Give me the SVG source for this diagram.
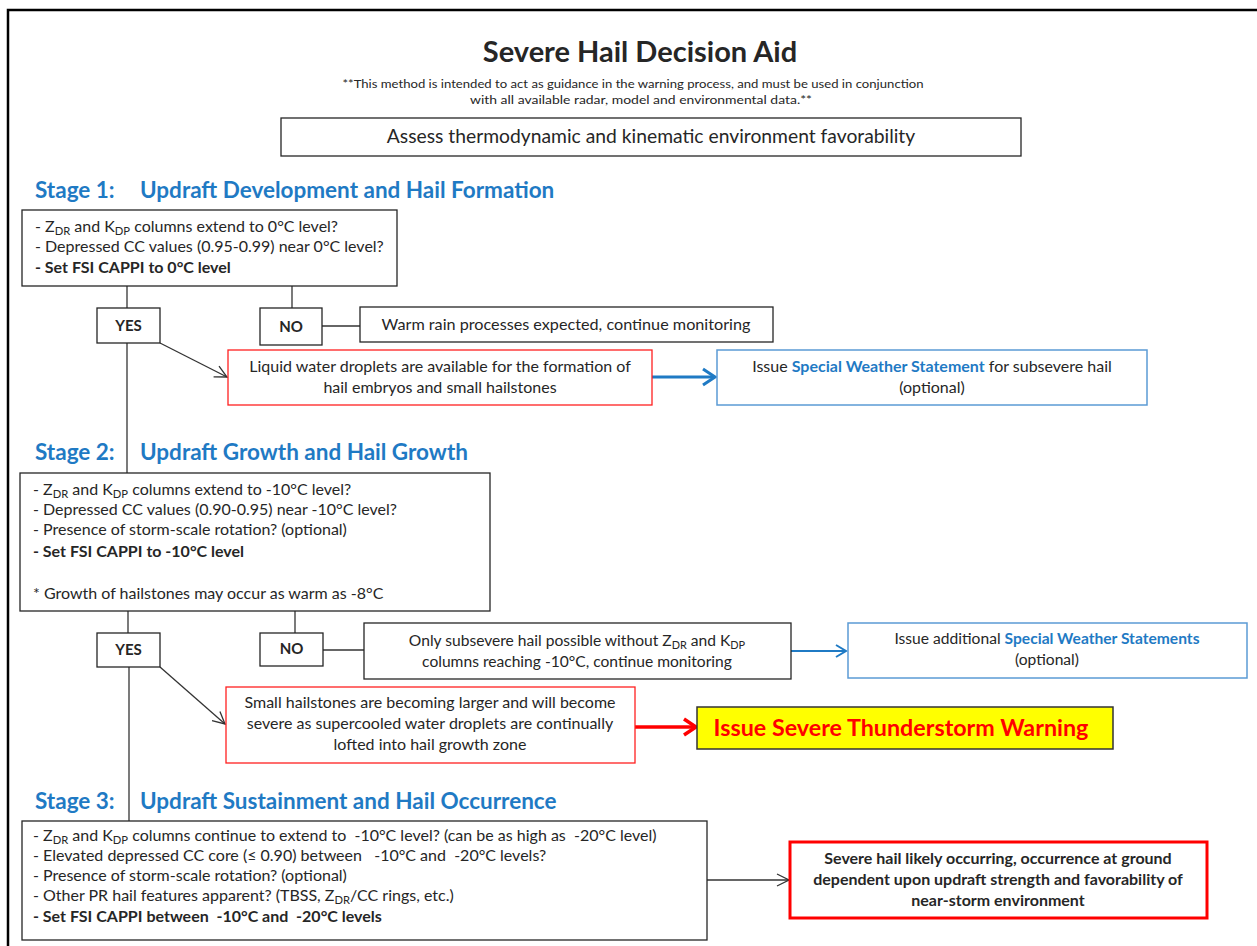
<svg xmlns="http://www.w3.org/2000/svg" width="1257" height="946" viewBox="0 0 1257 946">
<defs>
<style>
text{font-family:Lato,"Open Sans","Liberation Sans",sans-serif;fill:#262626}
.t{font-size:16px}
.s3{font-size:16px}
.b{font-weight:bold}
.c{text-anchor:middle}
.hd{font-size:22.5px;font-weight:bold;fill:#1F7AC4}
.blue{fill:#1F7AC4;font-weight:bold}
.box{fill:#fff;stroke:#262626;stroke-width:1.3}
.rbox{fill:#fff;stroke:#FF2020;stroke-width:1.3}
.bbox{fill:#fff;stroke:#5B9BD5;stroke-width:1.5}
.ln{fill:none;stroke:#333;stroke-width:1.3}
.sub{font-size:70%}
</style>
<marker id="ah" markerUnits="userSpaceOnUse" markerWidth="14" markerHeight="14" viewBox="0 0 14 14" refX="13" refY="7" orient="auto">
<path d="M1,1 L13,7 L1,13" fill="none" stroke="#333" stroke-width="1.3"/>
</marker>
<marker id="ahb" markerUnits="userSpaceOnUse" markerWidth="16" markerHeight="20" viewBox="0 0 16 20" refX="14" refY="10" orient="auto">
<path d="M2,2 L14,10 L2,18" fill="none" stroke="#1F7AC4" stroke-width="3"/>
</marker>
<marker id="ahb2" markerUnits="userSpaceOnUse" markerWidth="14" markerHeight="16" viewBox="0 0 14 16" refX="12" refY="8" orient="auto">
<path d="M2,2 L12,8 L2,14" fill="none" stroke="#1F7AC4" stroke-width="2"/>
</marker>
<marker id="ahr" markerUnits="userSpaceOnUse" markerWidth="16" markerHeight="20" viewBox="0 0 16 20" refX="14" refY="10" orient="auto">
<path d="M2,2 L14,10 L2,18" fill="none" stroke="#FF0000" stroke-width="3.5"/>
</marker>
</defs>
<rect x="0" y="0" width="1257" height="946" fill="#fff"/>
<rect id="frame" x="8" y="10" width="1260" height="960" fill="none" stroke="#000" stroke-width="2.5"/>

<g id="header">
<text x="640" y="62" class="c b" font-size="29" fill="#000">Severe Hail Decision Aid</text>
<text x="633" y="88" class="c" font-size="10.5" textLength="581" lengthAdjust="spacingAndGlyphs" fill="#000">**This method is intended to act as guidance in the warning process, and must be used in conjunction</text>
<text x="641" y="104" class="c" font-size="10.5" textLength="342" lengthAdjust="spacingAndGlyphs" fill="#000">with all available radar, model and environmental data.**</text>
</g>

<g id="assess">
<rect x="281" y="118" width="740" height="38" class="box"/>
<text x="651" y="143" class="c" font-size="19.3">Assess thermodynamic and kinematic environment favorability</text>
</g>

<g id="stage1-heading">
<text x="35" y="198" class="hd">Stage 1:</text>
<text x="140" y="198" class="hd">Updraft Development and Hail Formation</text>
</g>

<g id="connectors">
<line x1="127" y1="286" x2="127" y2="308" class="ln"/>
<line x1="292" y1="286" x2="292" y2="308" class="ln"/>
<line x1="322" y1="326" x2="360" y2="326" class="ln"/>
<line x1="160" y1="343" x2="227" y2="377" class="ln" marker-end="url(#ah)"/>
<line x1="652" y1="377" x2="715" y2="377" stroke="#1F7AC4" stroke-width="3" marker-end="url(#ahb)"/>
<line x1="127" y1="343" x2="127" y2="473" class="ln"/>
<line x1="128" y1="611" x2="128" y2="633" class="ln"/>
<line x1="295" y1="611" x2="295" y2="633" class="ln"/>
<line x1="323" y1="650" x2="364" y2="650" class="ln"/>
<line x1="791" y1="651" x2="846" y2="651" stroke="#1F7AC4" stroke-width="2" marker-end="url(#ahb2)"/>
<line x1="160" y1="667" x2="225" y2="724" class="ln" marker-end="url(#ah)"/>
<line x1="635" y1="727" x2="696" y2="727" stroke="#FF0000" stroke-width="3.5" marker-end="url(#ahr)"/>
<line x1="129" y1="667" x2="129" y2="821" class="ln"/>
<line x1="707" y1="880" x2="789" y2="880" class="ln" marker-end="url(#ah)"/>
</g>

<g id="stage1-box">
<rect x="22" y="210" width="375" height="76" class="box"/>
<text x="35" y="232" class="t">- Z<tspan class="sub" dy="3">DR</tspan><tspan dy="-3"> and K</tspan><tspan class="sub" dy="3">DP</tspan><tspan dy="-3"> columns extend to 0°C level?</tspan></text>
<text x="35" y="252" class="t">- Depressed CC values (0.95-0.99) near 0°C level?</text>
<text x="35" y="273" class="t b">- Set FSI CAPPI to 0°C level</text>
</g>

<g id="yes1">
<rect x="97" y="308" width="63" height="35" class="box"/>
<text x="128.5" y="331" class="c b" font-size="15">YES</text>
</g>
<g id="no1">
<rect x="260" y="308" width="62" height="37" class="box"/>
<text x="291" y="332" class="c b" font-size="15">NO</text>
</g>
<g id="warm-rain">
<rect x="360" y="307" width="413" height="35" class="box"/>
<text x="566" y="330" class="c" font-size="16.2">Warm rain processes expected, continue monitoring</text>
</g>
<g id="liquid-water">
<rect x="228" y="350" width="424" height="55" class="rbox"/>
<text x="440" y="372" class="c t">Liquid water droplets are available for the formation of</text>
<text x="440" y="393" class="c t">hail embryos and small hailstones</text>
</g>
<g id="sws1">
<rect x="717" y="350" width="430" height="55" class="bbox"/>
<text x="932" y="372" class="c t">Issue <tspan class="blue">Special Weather Statement</tspan> for subsevere hail</text>
<text x="932" y="393" class="c t">(optional)</text>
</g>

<g id="stage2-heading">
<text x="35" y="460" class="hd">Stage 2:</text>
<text x="140" y="460" class="hd">Updraft Growth and Hail Growth</text>
</g>
<g id="stage2-box">
<rect x="20" y="473" width="470" height="138" class="box"/>
<text x="33" y="495" class="t">- Z<tspan class="sub" dy="3">DR</tspan><tspan dy="-3"> and K</tspan><tspan class="sub" dy="3">DP</tspan><tspan dy="-3"> columns extend to -10°C level?</tspan></text>
<text x="33" y="515" class="t">- Depressed CC values (0.90-0.95) near -10°C level?</text>
<text x="33" y="535" class="t">- Presence of storm-scale rotation? (optional)</text>
<text x="33" y="557" class="t b">- Set FSI CAPPI to -10°C level</text>
<text x="33" y="599" class="t">* Growth of hailstones may occur as warm as -8°C</text>
</g>
<g id="yes2">
<rect x="97" y="633" width="63" height="34" class="box"/>
<text x="128.5" y="655" class="c b" font-size="15">YES</text>
</g>
<g id="no2">
<rect x="260" y="633" width="63" height="33" class="box"/>
<text x="291.5" y="654" class="c b" font-size="15">NO</text>
</g>
<g id="subsevere">
<rect x="364" y="623" width="427" height="56" class="box"/>
<text x="577" y="646" class="c" font-size="15.6">Only subsevere hail possible without Z<tspan class="sub" dy="3">DR</tspan><tspan dy="-3"> and K</tspan><tspan class="sub" dy="3">DP</tspan></text>
<text x="577" y="667" class="c" font-size="15.6">columns reaching -10°C, continue monitoring</text>
</g>
<g id="sws2">
<rect x="848" y="623" width="399" height="55" class="bbox"/>
<text x="1047" y="644" class="c" font-size="15.6">Issue additional <tspan class="blue">Special Weather Statements</tspan></text>
<text x="1047" y="665" class="c" font-size="15.6">(optional)</text>
</g>
<g id="hailstones-larger">
<rect x="226" y="687" width="409" height="76" class="rbox"/>
<text x="430" y="708" class="c t">Small hailstones are becoming larger and will become</text>
<text x="430" y="729" class="c t">severe as supercooled water droplets are continually</text>
<text x="430" y="750" class="c t">lofted into hail growth zone</text>
</g>
<g id="warning">
<rect x="697" y="707" width="416" height="42" fill="#FFFF00" stroke="#333" stroke-width="1.5"/>
<text x="901" y="736" class="c b" font-size="23.3" style="fill:#FF0000">Issue Severe Thunderstorm Warning</text>
</g>

<g id="stage3-heading">
<text x="35" y="809" class="hd">Stage 3:</text>
<text x="140" y="809" class="hd">Updraft Sustainment and Hail Occurrence</text>
</g>
<g id="stage3-box">
<rect x="22" y="821" width="685" height="119" class="box"/>
<text x="33" y="841" class="s3">- Z<tspan class="sub" dy="3">DR</tspan><tspan dy="-3"> and K</tspan><tspan class="sub" dy="3">DP</tspan><tspan dy="-3"> columns continue to extend to &#160;-10°C level? (can be as high as &#160;-20°C level)</tspan></text>
<text x="33" y="861" class="s3">- Elevated depressed CC core (≤ 0.90) between &#160;&#160;-10°C and &#160;-20°C levels?</text>
<text x="33" y="881" class="s3">- Presence of storm-scale rotation? (optional)</text>
<text x="33" y="901" class="s3">- Other PR hail features apparent? (TBSS, Z<tspan class="sub" dy="3">DR</tspan><tspan dy="-3">/CC rings, etc.)</tspan></text>
<text x="33" y="922" class="s3 b">- Set FSI CAPPI between &#160;-10°C and &#160;-20°C levels</text>
</g>
<g id="severe-hail">
<rect x="790" y="842" width="417" height="76" fill="#fff" stroke="#FF0000" stroke-width="3"/>
<text x="998" y="864" class="c b" font-size="16">Severe hail likely occurring, occurrence at ground</text>
<text x="998" y="885" class="c b" font-size="16">dependent upon updraft strength and favorability of</text>
<text x="998" y="906" class="c b" font-size="16">near-storm environment</text>
</g>
</svg>
